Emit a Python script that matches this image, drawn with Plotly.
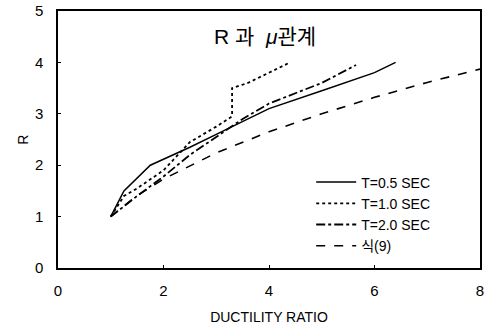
import plotly.graph_objects as go

# Ductility ratio (mu) vs. strength reduction factor R
mu_t05 = [1.0, 1.25, 1.75, 2.5, 3.0, 3.5, 4.0, 5.0, 6.0, 6.4]
r_t05 = [1.0, 1.5, 2.0, 2.35, 2.6, 2.85, 3.1, 3.45, 3.8, 4.0]

mu_t10 = [1.0, 1.25, 1.5, 2.0, 2.5, 3.0, 3.3, 3.3, 3.6, 4.4]
r_t10 = [1.0, 1.4, 1.55, 1.9, 2.45, 2.75, 2.95, 3.5, 3.6, 4.0]

mu_t20 = [1.0, 1.5, 2.0, 2.5, 3.0, 3.5, 4.0, 5.0, 5.65]
r_t20 = [1.0, 1.4, 1.78, 2.2, 2.55, 2.9, 3.2, 3.6, 3.95]

mu_eq9 = [1.0, 1.5, 2.0, 3.0, 4.0, 5.0, 6.0, 7.0, 8.0]
r_eq9 = [1.0, 1.41, 1.73, 2.24, 2.65, 3.0, 3.32, 3.61, 3.87]

x_ticks = [0, 2, 4, 6, 8]
y_ticks = [0, 1, 2, 3, 4, 5]

series = [
    ("T=0.5 SEC", mu_t05, r_t05, "solid", 1.5),
    ("T=1.0 SEC", mu_t10, r_t10, "dot", 1.8),
    ("T=2.0 SEC", mu_t20, r_t20, "dashdot", 1.8),
    ("식(9)", mu_eq9, r_eq9, "dash", 1.6),
]

fig = go.Figure()
for name, xs, ys, dash, w in series:
    fig.add_trace(go.Scatter(
        x=xs, y=ys, mode="lines", name=name,
        line=dict(color="black", width=w, dash=dash),
    ))

font_family = "Liberation Sans, Arial, Noto Sans CJK KR, sans-serif"

fig.update_layout(
    width=489, height=325,
    margin=dict(l=58, r=9, t=11, b=57),
    paper_bgcolor="white", plot_bgcolor="white",
    font=dict(family=font_family, size=14, color="black"),
    showlegend=True,
    legend=dict(
        x=0.6, y=0.395, xanchor="left", yanchor="top",
        bgcolor="rgba(0,0,0,0)", borderwidth=0,
        font=dict(size=14), tracegroupgap=0, itemwidth=40,
    ),
    xaxis=dict(
        range=[0, 8], tickvals=x_ticks, ticktext=[str(v) for v in x_ticks],
        showgrid=False, zeroline=False, automargin=False,
        showline=True, linecolor="black", linewidth=1.5, mirror=True,
        ticks="inside", ticklen=3, tickcolor="black",
        ticklabelstandoff=8, tickfont=dict(size=15),
        title=dict(text="DUCTILITY RATIO", font=dict(size=14)),
    ),
    yaxis=dict(
        range=[0, 5], tickvals=y_ticks, ticktext=[str(v) for v in y_ticks],
        showgrid=False, zeroline=False, automargin=False,
        showline=True, linecolor="black", linewidth=1.5, mirror=True,
        ticks="inside", ticklen=3, tickcolor="black",
        ticklabelstandoff=10, tickfont=dict(size=15),
    ),
    annotations=[
        dict(
            text="R 과  <i>μ</i>관계", xref="paper", yref="paper",
            x=0.49, y=0.9, xanchor="center", yanchor="middle",
            showarrow=False, font=dict(size=21, family=font_family),
        ),
        # y-axis title
        dict(
            text="R", xref="paper", yref="paper",
            x=-0.085, y=0.5, xanchor="center", yanchor="middle",
            textangle=-90, showarrow=False, font=dict(size=14),
        ),
    ],
)

fig.write_html("out.html")
